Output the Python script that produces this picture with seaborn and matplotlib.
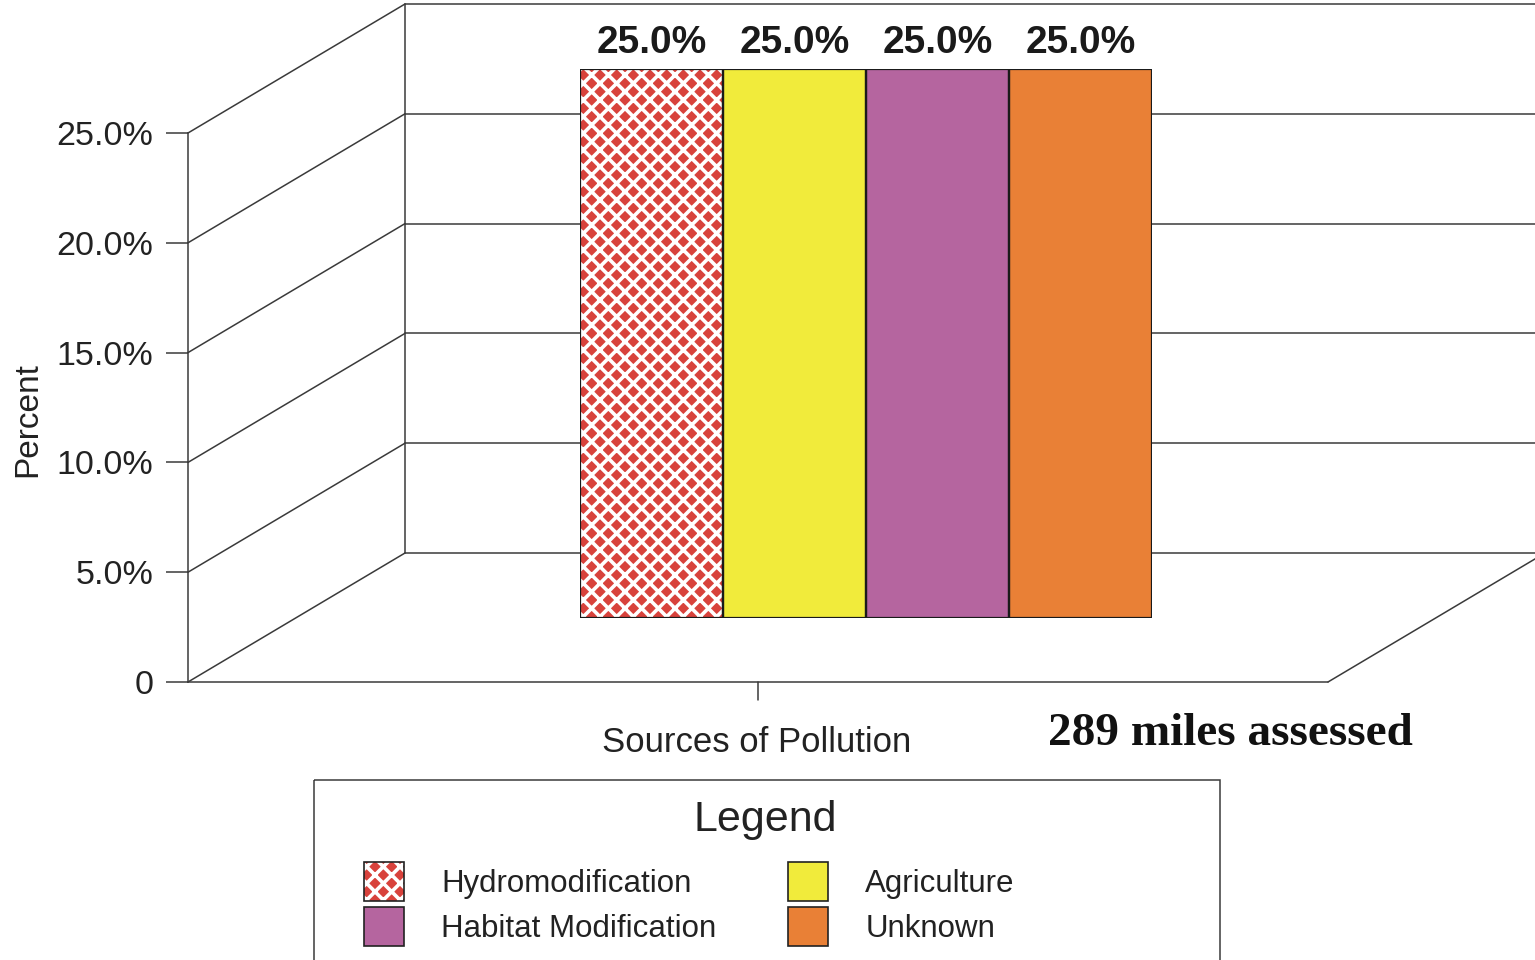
import matplotlib
matplotlib.use('Agg')
import matplotlib.pyplot as plt
import seaborn as sns
import pandas as pd
from matplotlib.patches import Patch, Rectangle

sources = ['Hydromodification', 'Agriculture', 'Habitat Modification', 'Unknown']
percents = [25.0, 25.0, 25.0, 25.0]
colors = ['#d8423c', '#f1eb3b', '#b5659f', '#e98036']
hatches = ['xx', '', '', '']
yticks = [0, 5, 10, 15, 20, 25]
ytick_labels = ['0', '5.0%', '10.0%', '15.0%', '20.0%', '25.0%']
note = '289 miles assessed'

df = pd.DataFrame({'source': sources, 'percent': percents})

sns.set_style('white')
plt.rcParams['font.family'] = ['Liberation Sans', 'DejaVu Sans']
plt.rcParams['hatch.linewidth'] = 2.6

W, H = 1535, 960
fig = plt.figure(figsize=(W / 100, H / 100), dpi=100)

# 3d frame geometry (pixels)
fx0, fy0, fy25 = 188, 682, 133      # front axis
dx, dy = 217, -129                   # depth offset of back wall
floor_right = 1328
line_kw = dict(color='#3a3a3a', lw=1.1)

def ypix(v):
    return fy0 - v * (fy0 - fy25) / 25.0

bg = fig.add_axes([0, 0, 1, 1])
bg.set_xlim(0, W)
bg.set_ylim(H, 0)
bg.axis('off')

# back wall vertical + gridlines, diagonals
top_back = ypix(25) + dy
bg.plot([fx0 + dx, fx0 + dx], [ypix(0) + dy, top_back], **line_kw)
bg.plot([fx0, fx0 + dx], [ypix(25), top_back], **line_kw)
bg.plot([fx0 + dx, W], [top_back, top_back], **line_kw)
for v in yticks[:-1]:
    yb = ypix(v) + dy
    bg.plot([fx0 + dx, W], [yb, yb], **line_kw)
    bg.plot([fx0, fx0 + dx], [ypix(v), yb], **line_kw)
# floor
bg.plot([fx0, floor_right], [fy0, fy0], **line_kw)
bg.plot([floor_right, floor_right + dx], [fy0, fy0 + dy], **line_kw)
xc = (fx0 + floor_right) / 2
bg.plot([xc, xc], [fy0, fy0 + 18], **line_kw)

# front value axis
ax = fig.add_axes([fx0 / W, 1 - fy0 / H, 0.001, (fy0 - fy25) / H])
ax.set_ylim(0, 25)
ax.set_yticks(yticks)
ax.set_yticklabels(ytick_labels)
ax.set_xticks([])
for s in ['top', 'right', 'bottom']:
    ax.spines[s].set_visible(False)
ax.spines['left'].set_color('#3a3a3a')
ax.spines['left'].set_linewidth(1.1)
ax.patch.set_alpha(0)
ax.tick_params(axis='y', length=16, width=1.1, color='#3a3a3a', pad=9,
               labelsize=24.5, labelcolor='#222222', left=True)

# bars in the middle plane
bx0, bx1, by0 = 580, 1152, 618
bax = fig.add_axes([bx0 / W, 1 - by0 / H, (bx1 - bx0) / W, (fy0 - fy25) / H])
bax.patch.set_alpha(0)
sns.barplot(data=df, x='source', y='percent', hue='source', palette=colors,
            saturation=1, width=1, edgecolor='white', linewidth=0,
            legend=False, ax=bax)
for p, h in zip(bax.patches, hatches):
    p.set_hatch(h)
sns.barplot(data=df, x='source', y='percent', width=1, fill=False,
            color='#1a1a1a', linewidth=1.6, errorbar=None, ax=bax)
bax.set_ylim(0, 25)
bax.set_xlim(-0.5, len(sources) - 0.5)
bax.bar_label(bax.containers[-1], labels=[f'{v:.1f}%' for v in percents],
              padding=6, fontsize=28, fontweight='bold', color='#1a1a1a')
bax.axis('off')

fig.text(28 / W, 1 - 420 / H, 'Percent', rotation=90, ha='center', va='center',
         fontsize=24, color='#222222')
fig.text(757 / W, 1 - 743 / H, 'Sources of Pollution', ha='center', va='center',
         fontsize=25, color='#222222')
fig.text(1230 / W, 1 - 734 / H, note, ha='center', va='center', fontsize=34,
         fontweight='bold', family='Liberation Serif', color='#111111')

# legend
bg.add_patch(Rectangle((314, 780), 906, 200, fill=False, edgecolor='#3a3a3a', lw=1.1))
fig.text(765 / W, 1 - 820 / H, 'Legend', ha='center', va='center', fontsize=31,
         color='#222222')
handles = [(Patch(facecolor=c, edgecolor='white', hatch=h, lw=0),
            Patch(fill=False, edgecolor='#222222', lw=1.2))
           for c, h in zip(colors, hatches)]
order = [0, 2, 1, 3]
leg = fig.legend([handles[i] for i in order], [sources[i] for i in order],
                 ncol=2, loc='upper left', bbox_to_anchor=(342 / W, 1 - 840 / H),
                 frameon=False, fontsize=22.5, handlelength=1.27, handleheight=1.53,
                 handletextpad=1.2, columnspacing=2.3, labelspacing=0.22,
                 borderpad=0.2)
for t in leg.get_texts():
    t.set_color('#222222')

fig.savefig('out.png', dpi=100)
